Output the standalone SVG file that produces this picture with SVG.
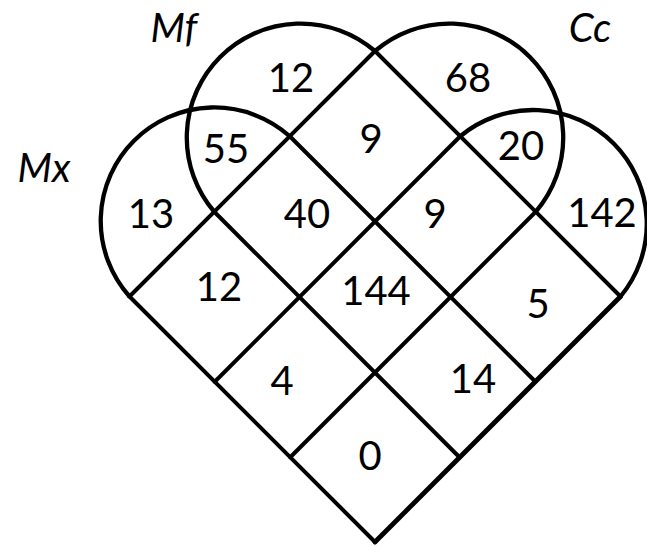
<svg xmlns="http://www.w3.org/2000/svg" width="647" height="547" viewBox="0 0 647 547">
  <style>
    .arc { fill: none; stroke: #000; stroke-width: 4.3; }
    .ln { fill: none; stroke: #000; stroke-width: 4; stroke-linecap: round; }
    .num { font-family: Lato, "Liberation Sans", sans-serif; font-size: 40px; fill: #000; text-anchor: middle; }
    .lab { font-family: Lato, "Liberation Sans", sans-serif; font-size: 40px; font-style: italic; fill: #000; text-anchor: middle; }
  </style>
  <rect width="647" height="547" fill="#fff"/>
  <g id="set-mx">
    <path class="arc" d="M129.5,296.5 A113.5,113.5 0 0 1 289.75,136.25"/>
    <text class="lab" x="44" y="182">Mx</text>
  </g>
  <g id="set-mf">
    <path class="arc" d="M214.25,211.75 A114,114 0 0 1 375,51"/>
    <text class="lab" x="174" y="42">Mf</text>
  </g>
  <g id="set-cc">
    <path class="arc" d="M375,51 A114,114 0 0 1 535.75,211.75"/>
    <text class="lab" x="590" y="42">Cc</text>
  </g>
  <g id="set-right">
    <path class="arc" d="M460.25,136.25 A113.8,113.8 0 0 1 620.5,296.5"/>
  </g>
  <g id="connectors">
    <path class="ln" d="M375,542 L620.5,296.5" style="stroke-width:4.8"/>
    <path class="ln" d="M290.25,457.25 L535.75,211.75"/>
    <path class="ln" d="M214.75,381.75 L460.25,136.25"/>
    <path class="ln" d="M129.5,296.5 L375,51"/>
    <path class="ln" d="M129.5,296.5 L375,542"/>
    <path class="ln" d="M214.25,211.75 L459.75,457.5"/>
    <path class="ln" d="M289.75,136.25 L535.25,381.5"/>
    <path class="ln" d="M375,51 L620.5,296.5"/>
  </g>
  <g id="counts">
    <text class="num" x="291" y="92">12</text>
    <text class="num" x="468" y="92">68</text>
    <text class="num" x="226" y="163">55</text>
    <text class="num" x="371" y="153">9</text>
    <text class="num" x="521" y="160">20</text>
    <text class="num" x="151" y="228">13</text>
    <text class="num" x="307" y="228">40</text>
    <text class="num" x="435" y="228">9</text>
    <text class="num" x="602" y="227">142</text>
    <text class="num" x="219" y="301">12</text>
    <text class="num" x="376" y="305">144</text>
    <text class="num" x="538" y="318">5</text>
    <text class="num" x="282" y="395">4</text>
    <text class="num" x="473" y="393">14</text>
    <text class="num" x="370" y="470">0</text>
  </g>
</svg>
